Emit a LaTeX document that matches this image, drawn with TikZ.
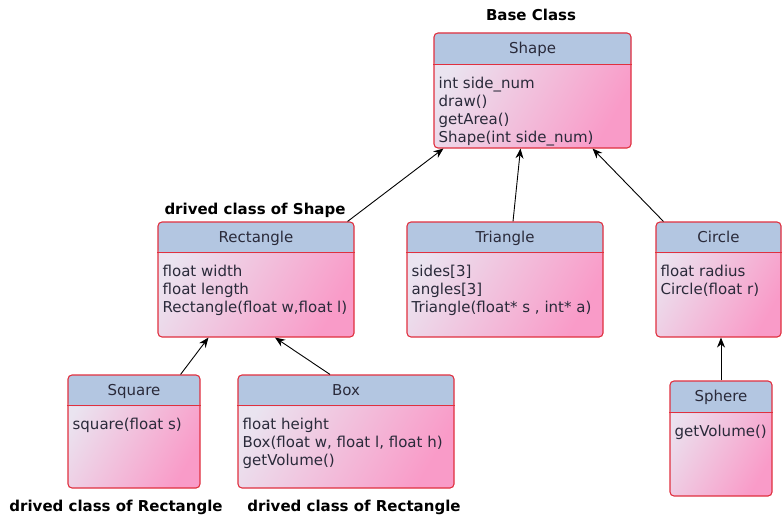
\documentclass[tikz,border=0pt]{standalone}
\usepackage{fontspec}
\setmainfont{DejaVu Sans}
\usetikzlibrary{fit,arrows.meta}
\definecolor{hdr}{HTML}{B3C6E1}
\definecolor{bord}{HTML}{E0303F}
\definecolor{lite}{HTML}{EAE4F0}
\definecolor{pnk}{HTML}{F99BC8}
\definecolor{txt}{HTML}{2A2A3A}
\tikzset{
  clsbox/.style={inner sep=0pt, rounded corners=4pt, draw=bord, line width=1.1pt,
    top color=lite, bottom color=pnk, shading angle=60},
  hdrbar/.style={fill=hdr},
  clstitle/.style={font=\fontsize{15}{17}\selectfont, text=txt, inner sep=0pt, anchor=base},
  clsbody/.style={font=\fontsize{15}{18}\selectfont, text=txt, align=left, inner sep=0pt, anchor=north west},
  lbl/.style={font=\bfseries\fontsize{15}{17}\selectfont, text=black, inner sep=0pt},
  inh/.style={-{Stealth[length=10pt,width=8pt]}, line width=0.9pt, black},
}
% name, x1, y1, x2, y2, header height, title, body
\newcommand\umlcls[8]{%
  \coordinate (#1-a) at (#2,#3);
  \coordinate (#1-b) at (#4,#5);
  \node[clsbox, fit=(#1-a)(#1-b),
    path picture={\fill[hdrbar] (path picture bounding box.north west) rectangle ([yshift=-#6pt]path picture bounding box.north east);}] (#1) {};
  \draw[bord, line width=1pt] ([yshift=-#6pt]#1.north west) -- ([yshift=-#6pt]#1.north east);
  \node[clstitle] (#1-t) at ([yshift=-#6pt/2-5.5pt]#1.north) {#7};
  \node[clsbody] (#1-d) at ([xshift=5pt,yshift=-#6pt-12pt]#1.north west) {#8};
}
\begin{document}
\begin{tikzpicture}[x=1pt,y=-1pt]
\useasboundingbox (0,0) rectangle (783,516);
\umlcls{shape}{434}{33}{631}{148}{32}{Shape}{int side\_num\\draw()\\getArea()\\Shape(int side\_num)}
\umlcls{rect}{158}{222}{354}{337}{31}{Rectangle}{float width\\float length\\Rectangle(float w,float l)}
\umlcls{tri}{407}{222}{603}{337}{31}{Triangle}{sides[3]\\angles[3]\\Triangle(float* s , int* a)}
\umlcls{circ}{656}{222}{781}{337}{31}{Circle}{float radius\\Circle(float r)}
\umlcls{sq}{68}{375}{200}{488}{31}{Square}{square(float s)}
\umlcls{box}{238}{375}{454}{488}{31}{Box}{float height\\Box(float w, float l, float h)\\getVolume()}
\umlcls{sph}{670}{381}{772}{496}{32}{Sphere}{getVolume()}

\node[lbl] (l1) at (531,15) {Base Class};
\node[lbl] (l2) at (255,210) {drived class of Shape};
\node[lbl] (l3) at (116,507) {drived class of Rectangle};
\node[lbl] (l4) at (354,507) {drived class of Rectangle};

\draw[inh] ([xshift=-7pt]rect.north east) -- ([xshift=10pt]shape.south west);
\draw[inh] ([xshift=8pt]tri.north) -- ([xshift=-12pt]shape.south);
\draw[inh] ([xshift=8pt]circ.north west) -- ([xshift=-39pt]shape.south east);
\draw[inh] ([xshift=-20pt]sq.north east) -- ([xshift=51pt]rect.south west);
\draw[inh] ([xshift=-16pt]box.north) -- ([xshift=19pt]rect.south);
\draw[inh] (sph.north) -- (sph.north |- circ.south);
\end{tikzpicture}
\end{document}
